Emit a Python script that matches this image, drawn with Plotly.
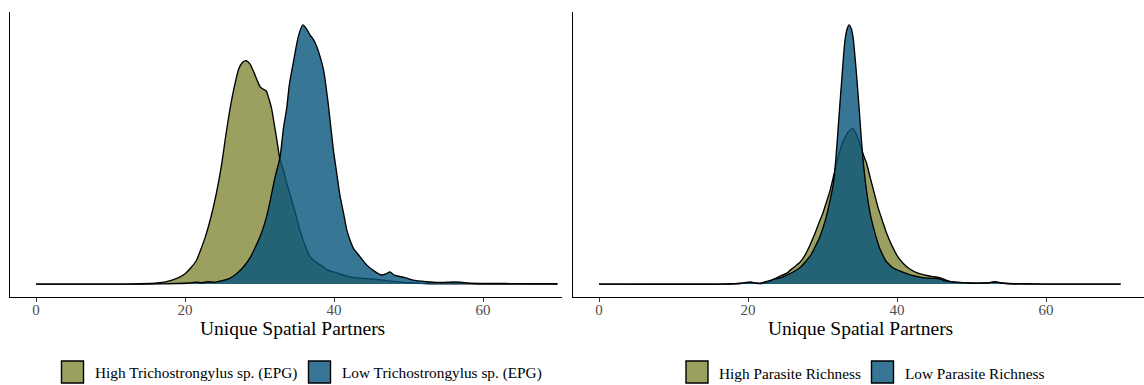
import plotly.graph_objects as go

W, H = 1144, 385

# ---- Panel A: Trichostrongylus sp. (EPG) ----
tri_high_x = [0, 12, 14, 16, 16.6, 17.5, 18.9, 20.0, 20.7, 21.5, 22.0, 22.7, 23.4, 24.2, 24.9, 25.5,
              26.0, 26.6, 27.2, 27.7, 28.2, 28.7, 29.2, 29.7, 30.1, 30.5, 30.9, 31.2, 31.6, 31.9, 32.3,
              32.75, 33.2, 33.6, 34.1, 34.7, 35.4, 36.1, 36.8, 37.4, 37.9, 38.5, 39.0, 40.0, 40.6, 41.3,
              42.1, 43.2, 44.4, 45.5, 46.6, 48.0, 49.5, 51.4, 53, 56, 60, 65, 70]
tri_high_y = [0, 0, 0.001, 0.003, 0.005, 0.009, 0.022, 0.04, 0.06, 0.09, 0.125, 0.18, 0.25, 0.35, 0.46,
              0.58, 0.67, 0.76, 0.83, 0.855, 0.862, 0.85, 0.82, 0.785, 0.76, 0.752, 0.745, 0.72, 0.68,
              0.63, 0.56, 0.48, 0.44, 0.395, 0.345, 0.285, 0.21, 0.15, 0.105, 0.088, 0.078, 0.068, 0.056,
              0.046, 0.041, 0.034, 0.028, 0.024, 0.021, 0.018, 0.015, 0.01, 0.006, 0.003, 0.001, 0.001,
              0, 0, 0]

tri_low_x = [0, 15, 19, 20.5, 21.5, 22.3, 23, 24, 25, 26, 26.9, 27.8, 28.7, 29.4, 30.1, 30.7, 31.2,
             31.7, 32.1, 32.75, 33.2, 33.65, 34.0, 34.5, 35.2, 35.8, 36.3, 36.8, 37.2, 37.7, 38.2, 38.6,
             39.2, 39.9, 40.4, 40.8, 41.3, 41.7, 42.2, 42.6, 43.5, 44.4, 45.5, 46.4, 47.0, 47.5, 48.0,
             48.5, 49.5, 50.6, 52.4, 54, 56, 57, 58, 60, 63, 66, 70]
tri_low_y = [0, 0, 0.002, 0.004, 0.007, 0.005, 0.009, 0.007, 0.013, 0.022, 0.04, 0.065, 0.1, 0.14,
             0.185, 0.235, 0.29, 0.36, 0.415, 0.49, 0.6, 0.68, 0.77, 0.85, 0.955, 1.0, 0.985, 0.96,
             0.945, 0.915, 0.87, 0.825, 0.70, 0.52, 0.42, 0.34, 0.27, 0.21, 0.165, 0.138, 0.105, 0.073,
             0.048, 0.035, 0.040, 0.047, 0.036, 0.031, 0.025, 0.015, 0.009, 0.006, 0.008, 0.007, 0.004,
             0.002, 0.002, 0.001, 0.001]

# ---- Panel B: parasite richness ----
pr_high_x = [0, 16, 19, 20.3, 21.0, 21.8, 22.7, 23.4, 24.1, 25.2, 25.6, 26.3, 27.0, 27.6, 28.3, 28.9,
             29.5, 30.0, 30.5, 31.0, 31.5, 32.0, 32.5, 33.0, 33.5, 34.05, 34.5, 34.95, 35.4, 35.9, 36.4,
             36.9, 37.4, 37.9, 38.6, 39.2, 40.0, 40.8, 41.7, 42.8, 44.0, 45.0, 45.8, 46.5, 47.2, 48.5,
             50, 51, 52.3, 53.1, 54, 55, 58, 70]
pr_high_y = [0, 0, 0.002, 0.005, 0.003, 0.002, 0.006, 0.018, 0.028, 0.042, 0.052, 0.068, 0.085, 0.11,
             0.15, 0.19, 0.235, 0.27, 0.315, 0.36, 0.42, 0.48, 0.53, 0.565, 0.59, 0.6, 0.58, 0.545,
             0.505, 0.466, 0.41, 0.355, 0.3, 0.255, 0.196, 0.155, 0.11, 0.08, 0.058, 0.042, 0.033,
             0.028, 0.024, 0.016, 0.009, 0.005, 0.004, 0.003, 0.005, 0.008, 0.004, 0.001, 0, 0]

pr_low_x = [0, 17, 19, 20.3, 21.0, 21.6, 22.5, 23.4, 24.0, 24.7, 25.6, 26.5, 27.2, 27.9, 28.5, 29.0,
            29.6, 30.1, 30.5, 30.9, 31.2, 31.45, 31.8, 32.2, 32.6, 33.0, 33.3, 33.56, 33.85, 34.1, 34.55,
            34.95, 35.2, 35.5, 35.9, 36.4, 36.9, 37.3, 37.7, 38.2, 38.6, 39.5, 40.4, 41.3, 42.2, 43.2,
            44.0, 45.0, 45.8, 46.5, 47.5, 48.5, 49.5, 51, 52.3, 53.1, 54, 55, 57, 60, 70]
pr_low_y = [0, 0, 0.003, 0.008, 0.004, 0.003, 0.01, 0.018, 0.022, 0.028, 0.04, 0.054, 0.07, 0.093,
            0.115, 0.144, 0.18, 0.221, 0.26, 0.31, 0.35, 0.389, 0.49, 0.646, 0.80, 0.94, 0.985, 1.0,
            0.985, 0.95, 0.81, 0.66, 0.56, 0.46, 0.36, 0.27, 0.21, 0.17, 0.135, 0.105, 0.085, 0.062,
            0.05, 0.04, 0.032, 0.026, 0.023, 0.022, 0.019, 0.012, 0.008, 0.006, 0.004, 0.003, 0.005,
            0.009, 0.004, 0.002, 0.001, 0, 0]

legend_a = ["High Trichostrongylus sp. (EPG)", "Low Trichostrongylus sp. (EPG)"]
legend_b = ["High Parasite Richness", "Low Parasite Richness"]
x_ticks = [0, 20, 40, 60]
x_title = "Unique Spatial Partners"

GREEN = "rgba(130,136,56,0.8)"
BLUE = "rgba(6,84,124,0.8)"
FONT = "Liberation Serif, Times New Roman, serif"


def px_x(p):
    return p / W


def px_y(p):
    return 1 - p / H


fig = go.Figure()


def density(x, y, color, xa, ya):
    fig.add_trace(go.Scatter(
        x=x, y=y, mode="lines", fill="tozeroy", fillcolor=color,
        line=dict(color="black", width=1.35, shape="spline", smoothing=0.6),
        xaxis=xa, yaxis=ya, showlegend=False, hoverinfo="skip"))


density(tri_high_x, tri_high_y, GREEN, "x", "y")
density(tri_low_x, tri_low_y, BLUE, "x", "y")
density(pr_high_x, pr_high_y, GREEN, "x2", "y2")
density(pr_low_x, pr_low_y, BLUE, "x2", "y2")

ydom = [px_y(297), px_y(12)]
xcommon = dict(showline=True, linecolor="black", linewidth=1.1, ticks="outside", ticklen=4,
               tickwidth=1, tickcolor="#333333", tickvals=x_ticks, showgrid=False, zeroline=False,
               ticklabelstandoff=-5,
               tickfont=dict(family=FONT, size=15, color="#4D4D4D"), fixedrange=True)
ycommon = dict(showline=True, linecolor="black", linewidth=1.1, showticklabels=False, ticks="",
               showgrid=False, zeroline=False, domain=ydom, range=[-0.05, 1.05], fixedrange=True)

fig.update_layout(
    width=W, height=H, margin=dict(l=0, r=0, t=0, b=0),
    paper_bgcolor="white", plot_bgcolor="white",
    xaxis=dict(domain=[px_x(10), px_x(562)], range=[-3.5, 70.6], anchor="y", **xcommon),
    xaxis2=dict(domain=[px_x(573), 1.0], range=[-3.5, 73.14], anchor="y2", **xcommon),
    yaxis=dict(anchor="x", **ycommon),
    yaxis2=dict(anchor="x2", **ycommon),
)

annotations = []
shapes = []
for cx in [292, 860]:
    annotations.append(dict(x=px_x(cx), y=px_y(328), xref="paper", yref="paper", text=x_title,
                            showarrow=False, xanchor="center", yanchor="middle",
                            font=dict(family=FONT, size=19.5, color="black")))


def legend_item(x0, label, color):
    shapes.append(dict(type="rect", xref="paper", yref="paper", x0=px_x(x0), x1=px_x(x0 + 22),
                       y0=px_y(383), y1=px_y(361), fillcolor=color,
                       line=dict(color="black", width=1.4)))
    annotations.append(dict(x=px_x(x0 + 31), y=px_y(373), xref="paper", yref="paper", text=label,
                            showarrow=False, xanchor="left", yanchor="middle",
                            font=dict(family=FONT, size=15.3, color="black")))


legend_item(61.5, legend_a[0], GREEN)
legend_item(308.5, legend_a[1], BLUE)
legend_item(686, legend_b[0], GREEN)
legend_item(871.5, legend_b[1], BLUE)

fig.update_layout(annotations=annotations, shapes=shapes)
fig.write_html("out.html")
